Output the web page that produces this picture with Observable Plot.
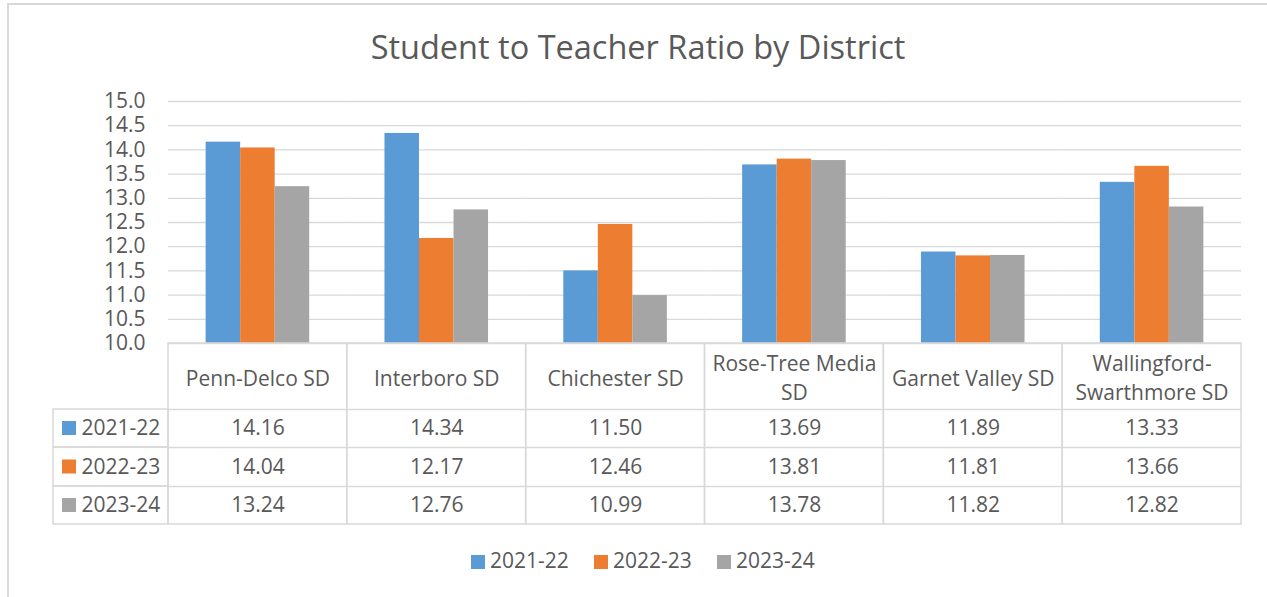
<!DOCTYPE html>
<html>
<head>
<meta charset="utf-8">
<script src="https://cdn.jsdelivr.net/npm/d3@7"></script>
<script src="https://cdn.jsdelivr.net/npm/@observablehq/plot@0.6"></script>
<style>
  html, body { margin: 0; padding: 0; background: #fff; }
  #wrap { position: relative; width: 1267px; height: 597px; overflow: hidden; font-family: "Open Sans", Lato, sans-serif; color: #595959; }
  #border { position: absolute; left: 7px; top: 3px; width: 1400px; height: 700px; border: 2px solid #d9d9d9; box-sizing: border-box; }
  #title { position: absolute; left: 0; width: 1276px; top: 25px; text-align: center; font-size: 32.5px; line-height: 44px; color: #595959; }
  #chart { position: absolute; left: 0; top: 0; }
  #legend { position: absolute; top: 545px; left: 0; width: 1267px; height: 30px; }
  .li { position: absolute; top: 0; font-size: 21px; line-height: 30px; white-space: nowrap; }
  .sw { display: inline-block; width: 14px; height: 14px; margin-right: 5px; vertical-align: -1px; }
</style>
</head>
<body>
<div id="wrap">
  <div id="border"></div>
  <div id="chart"></div>
  <div id="title">Student to Teacher Ratio by District</div>
  <div id="legend"></div>
</div>
<script>
const districts = ["Penn-Delco SD", "Interboro SD", "Chichester SD", "Rose-Tree Media SD", "Garnet Valley SD", "Wallingford-Swarthmore SD"];
const districtLabels = ["Penn-Delco SD", "Interboro SD", "Chichester SD", "Rose-Tree Media\nSD", "Garnet Valley SD", "Wallingford-\nSwarthmore SD"];
const seriesNames = ["2021-22", "2022-23", "2023-24"];
const colors = ["#5b9bd5", "#ed7d31", "#a5a5a5"];
const v2021 = [14.16, 14.34, 11.50, 13.69, 11.89, 13.33];
const v2022 = [14.04, 12.17, 12.46, 13.81, 11.81, 13.66];
const v2023 = [13.24, 12.76, 10.99, 13.78, 11.82, 12.82];
const yTicks = [10, 10.5, 11, 11.5, 12, 12.5, 13, 13.5, 14, 14.5, 15];

const seriesValues = [v2021, v2022, v2023];
const data = [];
seriesNames.forEach((s, si) => districts.forEach((d, di) => data.push({district: d, series: s, value: seriesValues[si][di]})));

const W = 1267, H = 597;
const mL = 168, mR = 26, mT = 101, mB = 254;
const facetW = (W - mL - mR) / districts.length;
const frameH = H - mT - mB;
const grid = "#d9d9d9";
const textColor = "#595959";
const fs = 21;
// table row boundaries (offsets below the frame bottom)
const rowBounds = [66, 104, 143, 181];
const rowCenters = [85, 123.5, 162];
const font = {fontSize: fs, fill: textColor, lineAnchor: "middle"};

const marks = [
  Plot.gridY(yTicks, {stroke: grid, strokeOpacity: 1, strokeWidth: 1.3}),
  Plot.axisY(yTicks, {tickSize: 0, tickPadding: 23, tickFormat: d3.format(".1f"), fontSize: fs, fill: textColor, label: null}),
  Plot.barY(data, {fx: "district", x: "series", y1: 10, y2: "value", fill: "series", inset: 0}),
  Plot.rect(districts, {fx: d => d, stroke: grid, strokeWidth: 1.5, fill: "none", insetTop: frameH, insetBottom: -rowBounds[3]})
];
rowBounds.slice(0, 3).forEach(b => marks.push(Plot.ruleY([10], {dy: b, stroke: grid, strokeWidth: 1.5})));
seriesNames.forEach((s, si) => {
  marks.push(Plot.rect([districts[0]], {fx: d => d, stroke: grid, strokeWidth: 1.5, fill: "none",
    insetLeft: -(mL - 53), insetRight: facetW,
    insetTop: frameH + rowBounds[si], insetBottom: -rowBounds[si + 1]}));
});
marks.push(Plot.text(districts, {fx: d => d, text: (d, i) => districtLabels[i], frameAnchor: "bottom", dy: 33, lineHeight: 1.35, ...font}));
seriesNames.forEach((s, si) => {
  marks.push(Plot.text(data.filter(d => d.series === s), {fx: "district", text: d => d3.format(".2f")(d.value), frameAnchor: "bottom", dy: rowCenters[si], ...font}));
  marks.push(Plot.text([s], {fx: () => districts[0], text: d => d, frameAnchor: "bottom-left", dx: 81 - mL, dy: rowCenters[si], textAnchor: "start", ...font}));
  marks.push(Plot.rect([s], {fx: () => districts[0], fill: d => d,
    insetLeft: 62 - mL, insetRight: mL + facetW - 76,
    insetTop: frameH + rowCenters[si] - 7, insetBottom: -(rowCenters[si] + 7)}));
});

const plot = Plot.plot({
  width: W, height: H,
  marginLeft: mL, marginRight: mR, marginTop: mT, marginBottom: mB,
  style: {background: "transparent", fontFamily: "'Open Sans', Lato, sans-serif", overflow: "visible"},
  fx: {domain: districts, padding: 0, round: false, axis: null},
  x: {domain: seriesNames, paddingInner: 0, paddingOuter: 1.09, round: false, axis: null},
  y: {domain: [10, 15], axis: null},
  color: {domain: seriesNames, range: colors},
  marks
});
document.getElementById("chart").appendChild(plot);

const legend = document.getElementById("legend");
const legendX = [471, 594, 717];
seriesNames.forEach((s, i) => {
  const el = document.createElement("span");
  el.className = "li";
  el.style.left = legendX[i] + "px";
  el.innerHTML = `<span class="sw" style="background:${colors[i]}"></span>${s}`;
  legend.appendChild(el);
});
</script>
</body>
</html>
